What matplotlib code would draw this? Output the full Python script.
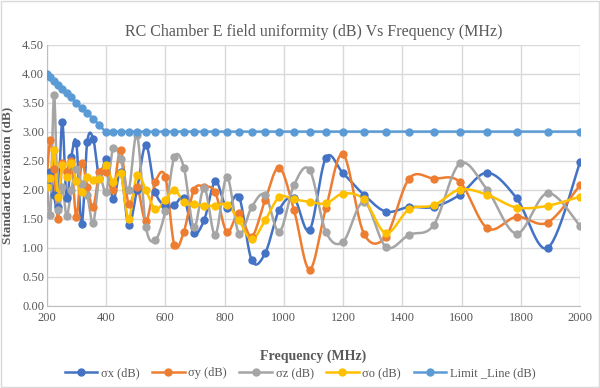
import numpy as np
import matplotlib
matplotlib.use('Agg')
import matplotlib.pyplot as plt
from matplotlib.lines import Line2D

# frequencies (MHz) - log spaced bands 200-600 (20), 600-1200 (15), 1200-2000 (10)
freq = [200.0, 211.9, 224.5, 237.9, 252.0, 267.0, 282.9, 299.8, 317.6, 336.5,
        356.5, 377.8, 400.3, 424.1, 449.3, 476.1, 504.4, 534.4, 566.2, 600.0,
        630.5, 662.5, 696.1, 731.4, 768.6, 807.6, 848.5, 891.6, 936.8, 984.4,
        1034.3, 1086.8, 1142.0, 1200.0, 1270.1, 1344.3, 1422.8, 1505.9, 1593.9,
        1687.0, 1785.5, 1889.8, 2000.0]

sigma_x = [2.15, 2.30, 1.90, 1.70, 3.17, 1.85, 2.57, 2.80, 1.40, 2.82,
           2.88, 2.20, 2.52, 1.83, 2.30, 1.39, 2.00, 2.77, 1.96, 1.72,
           1.73, 1.85, 1.25, 1.48, 2.14, 1.68, 1.88, 0.78, 0.90, 1.65,
           1.85, 1.30, 2.55, 2.28, 1.91, 1.62, 1.70, 1.70, 1.91, 2.29,
           1.85, 0.99, 2.48]
sigma_y = [2.20, 2.85, 2.35, 1.50, 2.45, 2.30, 2.50, 1.52, 2.45, 2.05,
           1.70, 2.30, 2.31, 2.00, 2.68, 1.75, 2.05, 1.45, 2.13, 2.22,
           1.04, 1.27, 1.99, 2.05, 1.95, 1.27, 1.59, 1.19, 1.82, 2.38,
           1.65, 0.62, 1.68, 2.61, 1.24, 1.19, 2.19, 2.19, 2.13, 1.33,
           1.53, 1.43, 2.08]
sigma_z = [2.20, 1.56, 3.63, 1.65, 2.05, 1.55, 2.00, 2.35, 2.10, 1.90,
           1.42, 2.20, 1.96, 2.72, 2.52, 2.00, 2.94, 1.36, 1.13, 1.63,
           2.56, 2.38, 1.35, 2.03, 1.22, 2.22, 1.24, 1.70, 1.91, 1.27,
           2.08, 2.34, 1.27, 1.10, 1.79, 1.01, 1.22, 1.39, 2.45, 1.99,
           1.24, 1.94, 1.37]
sigma_o = [2.05, 2.20, 2.68, 1.88, 2.42, 2.22, 2.45, 2.15, 1.95, 2.22,
           2.16, 2.19, 2.42, 2.13, 2.28, 1.50, 2.25, 1.99, 1.66, 1.82,
           2.00, 1.78, 1.75, 1.72, 1.72, 1.74, 1.47, 1.14, 1.47, 1.87,
           1.83, 1.79, 1.76, 1.93, 1.83, 1.25, 1.66, 1.73, 2.00, 1.91,
           1.69, 1.72, 1.88]
limit_line = [4.00, 3.94, 3.88, 3.81, 3.74, 3.67, 3.59, 3.50, 3.41, 3.32,
              3.22, 3.11] + [3.00] * 31

series = [
    ('σx (dB)', sigma_x, '#4472C4'),
    ('σy (dB)', sigma_y, '#ED7D31'),
    ('σz (dB)', sigma_z, '#A5A5A5'),
    ('σo (dB)', sigma_o, '#FFC000'),
    ('Limit _Line (dB)', limit_line, '#5B9BD5'),
]

SERIF = ['Liberation Serif', 'DejaVu Serif']
GREY = '#595959'


def smooth(x, y, n=14):
    # Excel style smoothed line (bezier through points) in screen-like units
    x = np.asarray(x, float)
    y = np.asarray(y, float)
    P = np.column_stack([(x - 200) / 1800 * 533, y * 58])
    out = [P[0]]
    t = np.linspace(0, 1, n)[1:, None]
    for i in range(len(P) - 1):
        p0 = P[i - 1] if i > 0 else P[i]
        p3 = P[i + 2] if i + 2 < len(P) else P[i + 1]
        c1 = P[i] + (P[i + 1] - p0) / 6
        c2 = P[i + 1] - (p3 - P[i]) / 6
        seg = ((1 - t) ** 3 * P[i] + 3 * (1 - t) ** 2 * t * c1
               + 3 * (1 - t) * t ** 2 * c2 + t ** 3 * P[i + 1])
        out.extend(seg)
    out = np.array(out)
    return out[:, 0] / 533 * 1800 + 200, out[:, 1] / 58


fig = plt.figure(figsize=(6, 3.88), dpi=100)
ax = fig.add_axes([0.078, 0.2126, 0.889, 0.6724])

handles = []
for name, vals, col in series:
    sx, sy = smooth(freq, vals)
    ax.plot(sx, sy, color=col, lw=1.8, zorder=3)
    ax.plot(freq, vals, 'o', color=col, ms=5, zorder=4)
    handles.append(Line2D([], [], color=col, lw=1.8, marker='o', ms=5, label=name))

ax.set_xlim(200, 2000)
ax.set_ylim(0, 4.5)
ax.set_xticks(np.arange(200, 2001, 200))
ax.set_yticks(np.arange(0, 4.51, 0.5))
ax.set_yticklabels(['%.2f' % v for v in np.arange(0, 4.51, 0.5)])
ax.grid(True, color='#d9d9d9', lw=1)
ax.set_axisbelow(True)
for s in ['top', 'right']:
    ax.spines[s].set_visible(False)
for s in ['left', 'bottom']:
    ax.spines[s].set_color('#bfbfbf')
ax.tick_params(length=0, labelsize=9, labelcolor=GREY)
ax.tick_params(axis='y', pad=2)
ax.tick_params(axis='x', pad=5)
for lab in ax.get_xticklabels() + ax.get_yticklabels():
    lab.set_family(SERIF)

ax.set_title('RC Chamber E field uniformity (dB) Vs Frequency (MHz)',
             family=SERIF, fontsize=11.5, color=GREY, pad=6)
ax.set_xlabel('Frequency (MHz)', family=SERIF, fontsize=10, fontweight='bold',
              color=GREY)
ax.xaxis.set_label_coords(0.5, -0.17)
ax.set_ylabel('Standard deviation (dB)', family=SERIF, fontsize=9.5,
              fontweight='bold', color=GREY)
ax.yaxis.set_label_coords(-0.062, 0.5)

fig.legend(handles=handles, loc='center', bbox_to_anchor=(0.5, 0.038), ncol=5,
           frameon=False, prop={'family': SERIF, 'size': 9}, handlelength=2.6,
           columnspacing=1.0, handletextpad=0.3, labelcolor=GREY)

fig.patches.append(plt.Rectangle((0.002, 0.003), 0.996, 0.994, transform=fig.transFigure,
                                 fill=False, edgecolor='#d9d9d9', lw=1))

fig.savefig('out.png', dpi=100)
plt.close(fig)
